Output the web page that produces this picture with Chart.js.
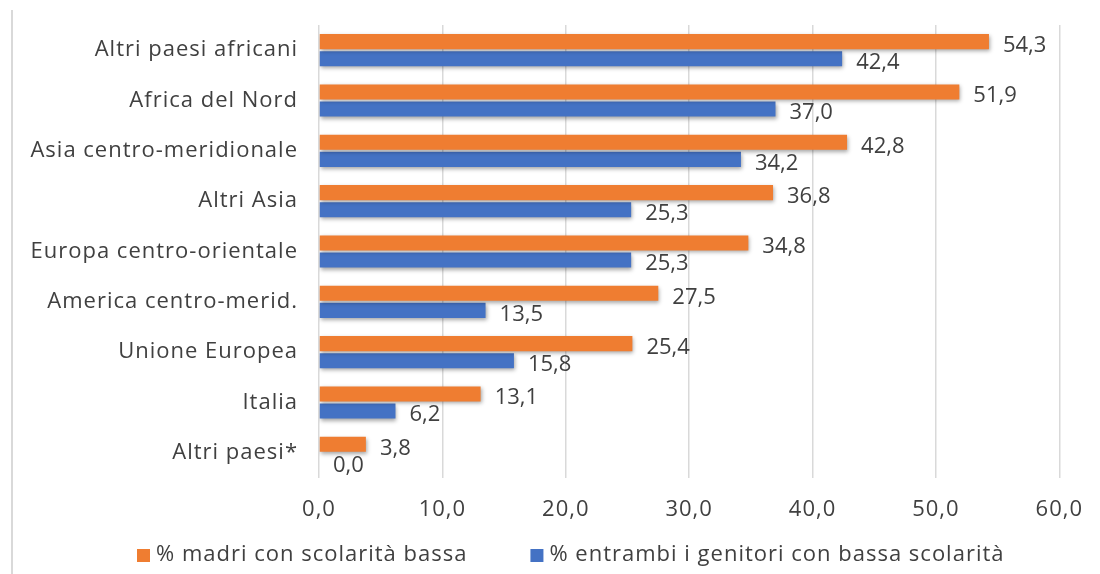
<!DOCTYPE html>
<html lang="it">
<head>
<meta charset="UTF-8">
<title>Scolarità bassa dei genitori</title>
<script src="https://cdn.jsdelivr.net/npm/chart.js@4.4.1/dist/chart.umd.min.js"></script>
<style>
    body { margin: 0; background: #fff; }
    .wrap { position: relative; width: 1100px; height: 574px; }
    .frame { position: absolute; left: 11px; top: 10px; bottom: 0; border-left: 2px solid #d9d9d9; }
    canvas { position: absolute; left: 0; top: 0; }
</style>
</head>
<body>
<div class="wrap">
    <div class="frame"></div>
    <canvas id="chart" width="1100" height="574"></canvas>
</div>
<script>
    // categorie e valori
    const categories = ['Altri paesi africani', 'Africa del Nord', 'Asia centro-meridionale', 'Altri Asia',
        'Europa centro-orientale', 'America centro-merid.', 'Unione Europea', 'Italia', 'Altri paesi*'];
    const madri = [54.3, 51.9, 42.8, 36.8, 34.8, 27.5, 25.4, 13.1, 3.8];
    const entrambi = [42.4, 37.0, 34.2, 25.3, 25.3, 13.5, 15.8, 6.2, 0.0];

    const FONT = "'Open Sans', sans-serif";
    const SIZE = 22;
    const TEXT = '#404040';
    const fmt = v => v.toFixed(1).replace('.', ',');

    // ombra sotto le barre, etichette dei valori e legenda in basso
    const barExtras = {
        id: 'barExtras',
        beforeDraw(chart) {
            // testo un po' più largo, come il font originale
            chart.ctx.letterSpacing = '1px';
        },
        beforeDatasetsDraw(chart) {
            const ctx = chart.ctx;
            ctx.save();
            ctx.shadowColor = 'rgba(0,0,0,0.35)';
            ctx.shadowBlur = 4;
            ctx.shadowOffsetX = 1;
            ctx.shadowOffsetY = 2;
        },
        afterDatasetsDraw(chart) {
            const ctx = chart.ctx;
            ctx.restore();
            ctx.save();
            ctx.letterSpacing = '0px';
            ctx.font = SIZE + 'px ' + FONT;
            ctx.fillStyle = TEXT;
            ctx.textAlign = 'left';
            ctx.textBaseline = 'middle';
            chart.data.datasets.forEach((ds, i) => {
                chart.getDatasetMeta(i).data.forEach((bar, j) => {
                    ctx.fillText(fmt(ds.data[j]), bar.x + 14, bar.y + 4);
                });
            });
            ctx.restore();
        },
        afterDraw(chart) {
            const ctx = chart.ctx;
            ctx.save();
            ctx.font = SIZE + 'px ' + FONT;
            ctx.textBaseline = 'middle';
            ctx.textAlign = 'left';
            let x = 137;
            const y = 555;
            chart.data.datasets.forEach(ds => {
                ctx.fillStyle = ds.backgroundColor;
                ctx.fillRect(x, y - 6, 13, 13);
                ctx.fillStyle = TEXT;
                ctx.fillText(ds.label, x + 19, y);
                x += 19 + ctx.measureText(ds.label).width + 63;
            });
            ctx.restore();
        }
    };

    new Chart(document.getElementById('chart'), {
        type: 'bar',
        data: {
            labels: categories,
            datasets: [
                { label: '% madri con scolarità bassa', data: madri, backgroundColor: '#EF7D31' },
                { label: '% entrambi i genitori con bassa scolarità', data: entrambi, backgroundColor: '#4472C4' }
            ]
        },
        options: {
            indexAxis: 'y',
            responsive: false,
            animation: false,
            categoryPercentage: 0.68,
            barPercentage: 0.88,
            layout: { padding: { left: 19, right: 40, top: 25, bottom: 39 } },
            scales: {
                x: {
                    min: 0, max: 60,
                    ticks: { stepSize: 10, callback: v => fmt(v), color: TEXT, font: { family: FONT, size: SIZE }, padding: 19 },
                    grid: { color: '#d9d9d9', lineWidth: 1.5, drawTicks: false },
                    border: { display: false },
                    afterFit: s => { s.height = 57; }
                },
                y: {
                    ticks: { color: TEXT, font: { family: FONT, size: SIZE }, padding: 21 },
                    grid: { display: false, drawTicks: false },
                    border: { display: false },
                    afterFit: s => { s.width = 300; s.paddingTop = 0; s.paddingBottom = 0; }
                }
            },
            plugins: {
                legend: { display: false },
                tooltip: { enabled: false }
            }
        },
        plugins: [barExtras]
    });
</script>
</body>
</html>
